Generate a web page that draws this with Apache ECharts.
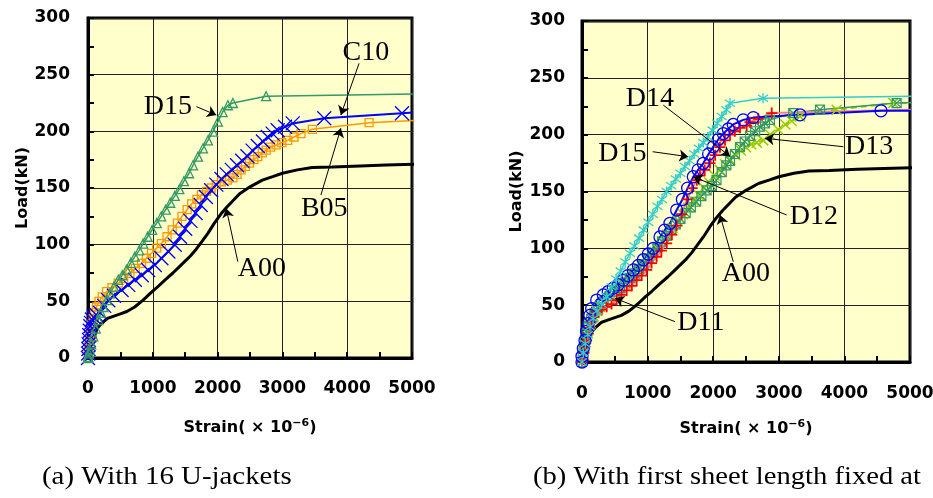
<!DOCTYPE html>
<html><head><meta charset="utf-8">
<script src="https://cdn.jsdelivr.net/npm/echarts@6/dist/echarts.min.js"></script>
<style>html,body{margin:0;padding:0;background:#fff}#c{width:933px;height:498px}</style>
</head><body><div id="c"></div>
<script>
// ---------- data (strain ×10^-6, load kN) ----------
const A00 = [[0,0],[50,10],[100,19],[140,26],[200,30],[300,35],[400,37],[500,39],[600,41],[720,45],[850,51],[960,57],[1060,62],[1190,69],[1310,75],[1400,80],[1490,85],[1580,90],[1670,96],[1760,103],[1850,110],[1950,119],[2050,127],[2140,133],[2240,139],[2340,145],[2500,151],[2690,157],[2850,160],[3000,163],[3230,166],[3460,168],[3770,168.5],[4200,169.5],[4600,170.3],[5150,171]];

// (a) With 16 U-jackets
const B05 = [[0,0],[5,5],[10,10],[20,15],[30,20],[45,25],[60,30],[80,35],[100,40],[130,45],[170,50],[220,54],[287,58.5],[370,62],[467,66],[550,70],[646,74.7],[730,79],[826,83.5],[900,88],[980,92.4],[1060,97],[1133,101],[1220,107],[1300,113],[1380,119],[1450,125],[1530,131],[1600,136],[1680,140],[1750,144],[1830,147],[1900,150],[1980,153],[2060,155.5],[2150,157],[2236,159],[2300,162],[2364,166],[2430,169],[2492,172],[2560,175],[2620,177.6],[2690,181],[2749,183.5],[2820,186],[2903,188],[2990,190],[3082,192],[3180,195],[3287,198],[3462,201.8],[4338,207.6],[5150,210]];
const C10 = [[0,0],[3,4],[6,8],[10,12],[15,16],[20,20],[28,24],[36,28],[45,31],[60,34],[90,36],[130,38],[185,40],[250,46],[313,51],[400,55],[518,60],[620,64.5],[723,69],[830,73],[928,77.6],[1030,82],[1133,88],[1240,94],[1338,100],[1420,107],[1500,114],[1580,121],[1660,128],[1740,135],[1820,142],[1900,148],[1980,153],[2060,158],[2140,162],[2220,166],[2300,170],[2380,174],[2460,178],[2540,183],[2620,187],[2700,191],[2774,195],[2850,198],[2928,201],[3040,204],[3159,207],[3646,211.5],[4846,216],[5150,217]];
const D15a = [[0,0],[5,1],[15,4],[31,7],[50,12],[82,19],[120,26],[159,33.5],[200,40],[236,45],[290,51],[338,57],[400,63],[467,69],[530,73],[595,78],[660,84],[723,89.4],[790,95],[851,101],[920,107],[990,113],[1060,119],[1130,125],[1200,131],[1270,137],[1340,143],[1410,149],[1480,156],[1559,163],[1620,170],[1697,177.6],[1774,185],[1851,192],[1928,199.7],[2005,208.5],[2077,217],[2159,223],[2236,225],[2749,231],[5150,233]];

// (b) With first sheet length fixed
const D11 = [[0,0],[20,2],[30,8],[46,13.5],[70,19],[96,25],[120,30],[148,35.5],[180,40],[224,44],[300,46],[376,48.6],[450,51],[528,54.5],[600,59],[681,63],[760,67],[833,72],[910,76],[986,81],[1060,87],[1138,92.6],[1210,98],[1291,104.4],[1370,112],[1443,120],[1520,130],[1600,143],[1680,153],[1750,160],[1798,164],[1870,169],[1951,175],[2030,182],[2103,189],[2180,195],[2256,200],[2330,203],[2408,206],[2510,208],[2561,211],[2687,214],[2892,219],[5150,222]];
const D12 = [[0,0],[0,5],[20,12],[46,19],[70,27],[96,34],[120,41],[148,47],[224,54.5],[325,59],[400,62],[477,65],[550,68],[630,72],[700,76],[782,81],[860,85],[935,90],[1010,95],[1087,100],[1189,110],[1260,116],[1341,122],[1443,133.7],[1530,143],[1610,153],[1697,163],[1770,169],[1849,174.8],[1930,183],[2001,189.4],[2080,196],[2154,201],[2230,205],[2306,209],[2458,213],[2611,215],[3323,217.5],[4558,221],[5150,221]];
const D13 = [[0,0],[15,6],[35,13],[60,20],[90,27],[130,34],[180,40],[230,45],[274,48.6],[350,53],[430,58],[510,63],[570,66],[630,69],[700,73],[770,77],[840,81],[910,85],[986,89.7],[1060,94],[1140,100],[1220,106],[1300,112],[1380,118],[1460,124],[1540,130],[1620,136],[1700,142],[1780,147],[1860,153],[1940,158],[2020,164],[2100,169],[2180,174],[2260,178],[2340,182],[2420,186],[2500,189],[2580,191.5],[2663,193],[2763,195],[2870,200],[2992,204.5],[3100,209],[3196,212],[3323,216],[3882,222],[4744,227.8],[5150,228]];
const D14 = [[0,0],[10,5],[25,12],[45,19],[70,26],[100,32],[140,38],[190,43],[250,48],[330,53],[420,58],[500,62],[580,65],[660,70],[732,74],[800,78],[870,82],[935,86],[1010,91],[1080,96],[1150,101],[1220,106],[1290,111],[1360,116],[1430,121],[1500,126],[1580,131],[1660,136],[1740,141],[1820,146],[1900,151],[1980,155],[2050,160],[2130,167],[2200,173],[2256,177],[2330,183],[2408,189],[2480,194],[2561,199],[2640,203],[2713,207],[2790,210],[2865,213],[3220,219],[3628,222],[4796,227.8],[5150,228.5]];
const D15b = [[0,0],[20,8],[50,16],[90,24],[122,31],[170,38],[230,45],[300,51],[376,57.5],[450,66],[520,73],[590,80],[660,88],[732,95.6],[800,102],[870,109],[940,116],[1010,123],[1080,130],[1150,137],[1220,143],[1290,150],[1360,155],[1430,161],[1500,166],[1570,172],[1640,177],[1710,183],[1780,188],[1850,193],[1920,198],[1990,204],[2060,210],[2130,216],[2200,222],[2256,227.6],[2760,232],[5150,234]];

// ---------- chart ----------
const chart = echarts.init(document.getElementById('c'), null, {renderer:'canvas'});
const SANS = 'DejaVu Sans', SERIF = 'Liberation Serif';
const SYM = {
  tri: 'path://M5,0L10,10L0,10Z',
  sq: 'path://M0,0L10,0L10,10L0,10Z',
  x: 'path://M0,0L10,10M10,0L0,10',
  plus: 'path://M5,0L5,10M0,5L10,5',
  star: 'path://M5,0L5,10M0,1.5L10,8.5M10,1.5L0,8.5',
  sqx: 'path://M0,0L10,0L10,10L0,10ZM0,0L10,10M10,0L0,10',
  circ: 'path://M10,5A5,5,0,1,1,0,5A5,5,0,1,1,10,5Z'
};
function pts(arr){ return arr.map((p,i)=> i===arr.length-1 ? {value:p, symbol:'none'} : p); }
function ser(gi, data, color, lineColor, lw, sym, size, bw, dashed){
  return {type:'line', xAxisIndex:gi, yAxisIndex:gi, data:pts(data), clip:false,
    symbol: sym || 'none', symbolSize:size||0, showAllSymbol:true,
    lineStyle:{color:lineColor, width:lw, type: dashed ? [6,4] : 'solid'},
    itemStyle:{color:'rgba(0,0,0,0)', borderColor:color, borderWidth:bw||1.3},
    emphasis:{disabled:true}, silent:true, z:2};
}
const labelFont = {fontFamily:SERIF, fontSize:28, color:'#000'};
function anno(texts, arrows){
  return {
    markPoint:{symbol:'circle', symbolSize:0, silent:true, animation:false,
      label:Object.assign({show:true, position:'inside', formatter:'{b}'}, labelFont),
      data: texts.map(t=>({name:t[0], coord:[t[1],t[2]]}))},
    markLine:{symbol:['none','arrow'], symbolSize:9, silent:true, animation:false,
      lineStyle:{color:'#000', width:1, type:'solid'}, itemStyle:{color:'#000'}, label:{show:false},
      emphasis:{disabled:true},
      data: arrows.map(a=>[{coord:[a[0],a[1]]},{coord:[a[2],a[3]]}])}
  };
}
const axisText = {fontFamily:SANS, fontWeight:'bold', fontSize:17, color:'#000'};
const nameText = {fontFamily:SANS, fontWeight:'bold', fontSize:16, color:'#000',
  rich:{s:{fontFamily:SANS, fontWeight:'bold', fontSize:11, color:'#000', verticalAlign:'top', padding:[0,0,8,0]}}};
function xAx(gi, gap, margin){
  return {type:'value', gridIndex:gi, min:0, max:5000, interval:1000,
    name:'Strain( × 10{s|−6})', nameLocation:'middle', nameGap:gap, nameTextStyle:nameText,
    axisLine:{show:true, onZero:false, lineStyle:{color:'#000', width:3}},
    axisTick:{show:true, inside:true, length:6, lineStyle:{color:'#000', width:2}},
    minorTick:{show:true, splitNumber:2, length:6, lineStyle:{color:'#000', width:2}},
    splitLine:{show:true, lineStyle:{color:'#222', width:1}},
    axisLabel:Object.assign({margin:margin, formatter:v=>String(v)}, axisText)};
}
function yAx(gi, gap, margin){
  return {type:'value', gridIndex:gi, min:0, max:300, interval:50,
    name:'Load(kN)', nameLocation:'middle', nameGap:gap, nameRotate:90,
    nameTextStyle:{fontFamily:SANS, fontWeight:'bold', fontSize:16, color:'#000'},
    axisLine:{show:true, onZero:false, lineStyle:{color:'#000', width:3}},
    axisTick:{show:true, inside:true, length:6, lineStyle:{color:'#000', width:2}},
    minorTick:{show:true, splitNumber:2, length:6, lineStyle:{color:'#000', width:2}},
    splitLine:{show:true, lineStyle:{color:'#222', width:1}},
    axisLabel:Object.assign({margin:margin, formatter:v=>String(v)}, axisText)};
}
const gridBase = {show:true, backgroundColor:'#FFFFCC', borderColor:'#000', borderWidth:3, containLabel:false, outerBoundsMode:'none'};

const a00a = Object.assign(ser(0, A00, '#000', '#000', 3), anno(
  [['D15',1231,222],['C10',4287,269.6],['B05',3646,131.5],['A00',2684,79]],
  [[1672,221.8,1979,214.4],[4183,260,3902,214.4],[3594,143.8,3902,202.7],[2312,85,2133,132]]));
const a00b = Object.assign(ser(1, A00, '#000', '#000', 3), anno(
  [['D14',1036,232],['D15',617,183.6],['D13',4377,189.4],['D12',3536,127.8],['A00',2497,78],['D11',1811,34.7]],
  [[1239,226,2256,181],[1077,185,1620,180.6],[3983,189.4,2789,196.8],[3120,129.3,1697,163],[2306,88.2,2103,129.3],[1417,35.5,503,56]]));

const option = {
  animation:false,
  backgroundColor:'#fff',
  grid:[
    Object.assign({left:88, top:18, width:324, height:340}, gridBase),
    Object.assign({left:582, top:21, width:328, height:341}, gridBase)
  ],
  xAxis:[xAx(0, 60, 22), xAx(1, 57, 23)],
  yAxis:[yAx(0, 53, 18), yAx(1, 57, 17)],
  series:[
    a00a,
    ser(0, B05, '#FF9900', '#FF9900', 1.5, SYM.sq, 8, 1.3),
    ser(0, C10, '#0000FF', '#0000FF', 2, SYM.x, 14, 1.3),
    ser(0, D15a, '#339966', '#339966', 1.5, SYM.tri, 9, 1.3),
    a00b,
    ser(1, D13, '#99CC00', '#99CC00', 2, SYM.x, 10, 1.5, true),
    ser(1, D14, '#339966', '#339966', 1.5, SYM.sqx, 9, 1.2),
    ser(1, D11, '#FF0000', '#FF8080', 2, SYM.plus, 11, 1.8),
    ser(1, D12, '#0000FF', '#0000FF', 2, SYM.circ, 12, 1.3),
    ser(1, D15b, '#33CCCC', '#33CCCC', 1.5, SYM.star, 10, 1.3)
  ],
  graphic:[
    {type:'text', x:42, y:477, scaleX:1.11, style:{text:'(a) With 16 U-jackets', font:'26px "Liberation Serif"', fill:'#000', verticalAlign:'middle'}},
    {type:'text', x:533, y:477, scaleX:1.10, style:{text:'(b) With first sheet length fixed at', font:'26px "Liberation Serif"', fill:'#000', verticalAlign:'middle'}}
  ]
};
chart.setOption(option);
</script>
</body></html>
